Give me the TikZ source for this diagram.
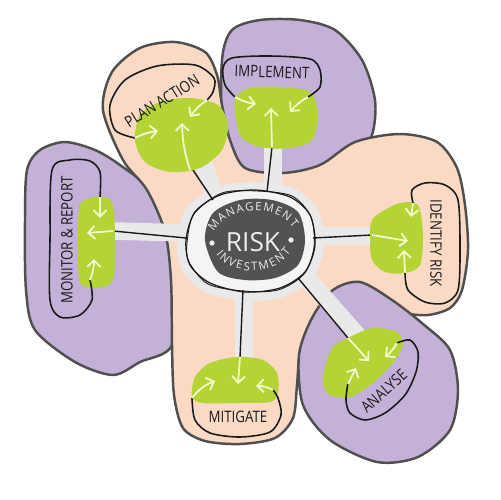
\documentclass[tikz,border=0pt]{standalone}
\usepackage{fontspec}
\setmainfont{Open Sans}
\newfontfamily\handfont[FakeStretch=0.84]{Open Sans}
\usetikzlibrary{arrows.meta,decorations.text}
\definecolor{lav}{HTML}{C4B1D8}
\definecolor{peach}{HTML}{FADAC4}
\definecolor{edge}{HTML}{4F4F4F}
\definecolor{lime}{HTML}{B4D334}
\definecolor{core}{HTML}{535251}
\definecolor{band}{HTML}{E9E9E9}
\definecolor{pale}{HTML}{F6F9CF}
\definecolor{ink}{HTML}{1A1A1A}
\definecolor{risktxt}{HTML}{EDEDED}
\tikzset{
 blob/.style={draw=edge, line width=1.4pt},
 greenblob/.style={fill=lime},
 loopline/.style={draw=ink, line width=0.9pt},
 bandline/.style={draw=band, line width=10pt},
 inkline/.style={draw=ink, line width=0.8pt},
 parrow/.style={draw=pale, line width=1pt, -{Straight Barb[length=3.8pt,width=7.5pt]}},
 lbl/.style={font=\handfont\fontsize{9}{9}\selectfont, text=ink, inner sep=0pt},
}
\begin{document}
\begin{tikzpicture}[x=0.02cm,y=-0.02cm]
\useasboundingbox (0,0) rectangle (500,500);
% purple blobs behind
\path[blob, fill=lav] plot[smooth cycle] coordinates {(223,130) (222,60) (232,30) (260,20) (300,20) (335,30) (362,60) (375,100) (372,135) (355,160) (300,185) (240,180)};
\path[blob, fill=lav] plot[smooth cycle] coordinates {(27,170) (40,150) (65,142) (95,150) (120,165) (150,190) (165,230) (172,280) (172,345) (140,362) (113,375) (75,362) (35,330) (26,290) (25,220)};
% peach
\path[blob, fill=peach] plot[smooth cycle] coordinates {(103,110) (112,72) (140,48) (175,42) (205,52) (217,75) (222,105) (230,140) (245,168) (283,173) (320,165) (355,142) (400,134) (437,142) (457,168) (465,205) (468,250) (462,290) (450,308) (428,315) (405,313) (383,303) (365,290) (335,300) (313,325) (300,355) (297,385) (293,418) (275,438) (240,444) (205,441) (183,428) (174,395) (172,345) (171,280) (165,232) (147,190) (123,160)};
% purple bottom right
\path[blob, fill=lav] plot[smooth cycle] coordinates {(360,282) (392,300) (423,324) (450,350) (458,390) (450,430) (418,457) (377,462) (330,440) (303,405) (299,355) (312,318) (333,290)};
% bands
\draw[bandline] (219,208) -- (203,162);
\draw[bandline] (273,198) -- (273,142);
\draw[bandline] (190,233) -- (112,231);
\draw[bandline] (308,236) -- (374,236);
\draw[bandline] (300,270) -- (358,336);
\draw[bandline] (244,288) -- (244,360);
% halo and ring
\path[fill=band] plot[smooth cycle] coordinates {(177,240) (187,207) (218,187) (255,182) (295,189) (318,210) (324,245) (313,278) (283,297) (245,301) (205,292) (182,270)};
\path[fill=white!50!band] plot[smooth cycle] coordinates {(186,240) (195,212) (220,195) (255,190) (290,197) (310,215) (315,245) (305,272) (280,288) (245,292) (210,283) (190,265)};
\draw[ink, line width=0.7pt] plot[smooth cycle] coordinates {(186,240) (195,212) (220,195) (255,190) (290,197) (310,215) (315,245) (305,272) (280,288) (245,292) (210,283) (190,265)};
\draw[ink, line width=0.5pt] plot[smooth cycle] coordinates {(187,243) (194,214) (222,193) (257,191) (292,196) (311,217) (314,247) (304,274) (278,290) (243,291) (208,284) (189,262)};
\path[fill=core] plot[smooth cycle] coordinates {(205,240) (213,213) (240,200) (272,200) (298,212) (305,240) (298,265) (275,278) (245,280) (218,272)};
% center text
\node[font=\fontsize{15}{15}\selectfont, text=risktxt, inner sep=0pt] (risk) at (253,242) {RISK};
\fill[risktxt] (212,243) circle[radius=1.5pt];
\fill[risktxt] (291,240) circle[radius=1.5pt];
\path[decorate, decoration={text along path, text align=fit to path, text color=risktxt, text={|\fontsize{6.5}{6.5}\selectfont|MANAGEMENT}}] (214,232) .. controls (228,207) and (275,202) .. (293,228);
\path[decorate, decoration={text along path, text align=fit to path, text color=risktxt, text={|\fontsize{6.5}{6.5}\selectfont|INVESTMENT}}] (216,254) .. controls (232,276) and (272,277) .. (291,252);
% black connector lines
\coordinate (cp0) at (213,200); \coordinate (cp1) at (193,170);
\coordinate (ci0) at (267,192); \coordinate (ci1) at (272,147);
\coordinate (cm0) at (186,238); \coordinate (cm1) at (113,231);
\coordinate (cd0) at (313,238); \coordinate (cd1) at (372,235);
\coordinate (ca0) at (298,278); \coordinate (ca1) at (348,338);
\coordinate (cg0) at (243,290); \coordinate (cg1) at (240,357);
\draw[inkline] (cp0) -- (cp1);
\draw[inkline] (ci0) -- (ci1);
\draw[inkline] (cm0) -- (cm1);
\draw[inkline] (cd0) -- (cd1);
\draw[inkline] (ca0) -- (ca1);
\draw[inkline] (cg0) -- (cg1);
% green blobs
\path[greenblob] plot[smooth cycle] coordinates {(135,140) (140,115) (160,102) (190,98) (218,105) (228,125) (222,150) (200,168) (170,172) (145,162)};
\path[greenblob] plot[smooth cycle] coordinates {(235,100) (250,88) (280,87) (310,92) (318,115) (312,140) (290,148) (260,147) (240,135)};
\path[greenblob] plot[smooth cycle] coordinates {(80,205) (95,197) (112,202) (115,240) (113,280) (97,288) (80,282) (78,240)};
\path[greenblob] plot[smooth cycle] coordinates {(372,220) (385,210) (400,203) (418,205) (423,235) (420,265) (405,273) (385,272) (372,260) (370,238)};
\path[greenblob] plot[smooth cycle] coordinates {(325,367) (333,347) (350,337) (373,328) (397,332) (403,345) (393,363) (373,383) (350,397) (330,395) (323,383)};
\path[greenblob] plot[smooth cycle] coordinates {(192,397) (195,377) (210,363) (237,357) (263,360) (277,373) (278,393) (270,402) (237,403) (203,403)};
% label loops
\draw[loopline] plot[smooth] coordinates {(135,138) (115,130) (110,105) (125,80) (157,66) (195,65) (214,78) (213,92) (207,100)};
\draw[loopline] plot[smooth] coordinates {(235,97) (225,85) (223,68) (232,58) (270,56) (310,59) (320,70) (320,87) (308,97)};
\draw[loopline] plot[smooth] coordinates {(100,197) (100,172) (90,161) (70,160) (52,170) (50,240) (50,300) (60,317) (80,315) (92,300) (90,280)};
\draw[loopline] plot[smooth] coordinates {(413,203) (412,190) (425,183) (445,185) (458,200) (460,250) (458,290) (445,303) (425,302) (408,290) (405,273)};
\draw[loopline] plot[smooth] coordinates {(397,343) (410,340) (418,352) (416,372) (405,395) (385,413) (365,420) (350,413) (346,400) (348,383)};
\draw[loopline] plot[smooth] coordinates {(192,398) (195,420) (210,433) (240,437) (270,432) (281,415) (278,398) (273,390)};
% labels
\node[lbl, rotate=32] (plan) at (162,101) {PLAN ACTION};
\node[lbl, rotate=-2] (impl) at (272,72) {IMPLEMENT};
\node[lbl, rotate=90] (mon) at (67,240) {MONITOR \& REPORT};
\node[lbl, rotate=-90] (ident) at (436,243) {IDENTIFY RISK};
\node[lbl, rotate=42] (anal) at (384,391) {ANALYSE};
\node[lbl] (miti) at (238,417) {MITIGATE};
% arrows
\coordinate (pa1) at (190,170); \coordinate (pa2) at (182,123);
\coordinate (pb1) at (135,138); \coordinate (pb2) at (158,131);
\coordinate (pc1) at (207,100); \coordinate (pc2) at (190,117);
\draw[parrow] (pa1) to[bend left=8] (pa2);
\draw[parrow] (pb1) to[bend left=10] (pb2);
\draw[parrow] (pc1) to[bend right=10] (pc2);
\coordinate (ia1) at (272,147); \coordinate (ia2) at (271,108);
\coordinate (ib1) at (235,97); \coordinate (ib2) at (256,104);
\coordinate (ic1) at (308,97); \coordinate (ic2) at (290,112);
\draw[parrow] (ia1) -- (ia2);
\draw[parrow] (ib1) to[bend right=10] (ib2);
\draw[parrow] (ic1) to[bend right=10] (ic2);
\coordinate (ma1) at (113,231); \coordinate (ma2) at (87,233);
\coordinate (mb1) at (100,197); \coordinate (mb2) at (100,218);
\coordinate (mc1) at (90,280); \coordinate (mc2) at (94,259);
\draw[parrow] (ma1) -- (ma2);
\draw[parrow] (mb1) -- (mb2);
\draw[parrow] (mc1) to[bend right=10] (mc2);
\coordinate (da1) at (372,235); \coordinate (da2) at (408,241);
\coordinate (db1) at (413,203); \coordinate (db2) at (411,217);
\coordinate (dc1) at (405,273); \coordinate (dc2) at (404,250);
\draw[parrow] (da1) -- (da2);
\draw[parrow] (db1) -- (db2);
\draw[parrow] (dc1) -- (dc2);
\coordinate (aa1) at (348,338); \coordinate (aa2) at (369,361);
\coordinate (ab1) at (397,343); \coordinate (ab2) at (385,357);
\coordinate (ac1) at (348,384); \coordinate (ac2) at (356,368);
\draw[parrow] (aa1) -- (aa2);
\draw[parrow] (ab1) to[bend left=10] (ab2);
\draw[parrow] (ac1) -- (ac2);
\coordinate (ga1) at (240,357); \coordinate (ga2) at (238,384);
\coordinate (gb1) at (192,398); \coordinate (gb2) at (215,381);
\coordinate (gc1) at (273,390); \coordinate (gc2) at (256,386);
\draw[parrow] (ga1) -- (ga2);
\draw[parrow] (gb1) to[bend left=15] (gb2);
\draw[parrow] (gc1) to[bend right=15] (gc2);
\end{tikzpicture}
\end{document}
